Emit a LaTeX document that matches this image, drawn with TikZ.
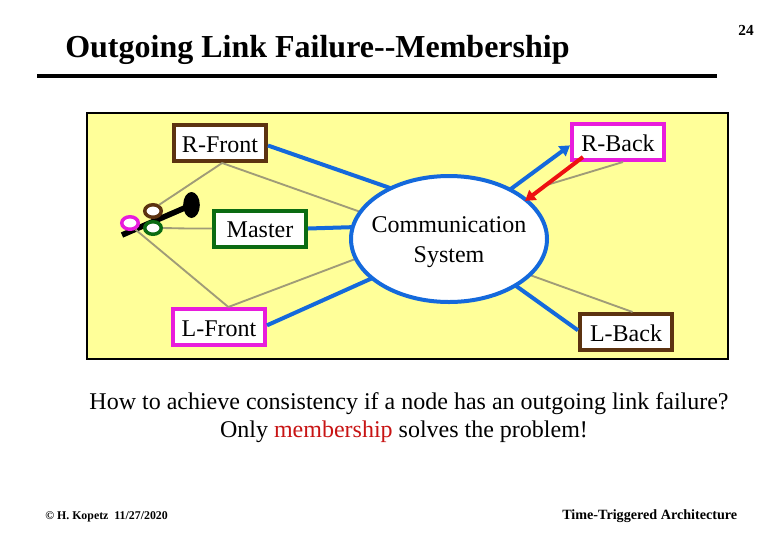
\documentclass[tikz,border=0pt]{standalone}
\usepackage{fontspec}
\setmainfont{Liberation Serif}
\usetikzlibrary{shapes.geometric,arrows.meta,calc}
\definecolor{panel}{HTML}{FFFF99}
\definecolor{cblue}{HTML}{1469DC}
\definecolor{cgray}{HTML}{A09C78}
\definecolor{cbrown}{HTML}{5C3310}
\definecolor{cgreen}{HTML}{0B6B12}
\definecolor{cmag}{HTML}{E81CDC}
\definecolor{cred}{HTML}{EE1111}
\definecolor{tred}{HTML}{C81414}
\tikzset{
  boxn/.style={draw=#1,line width=3pt,fill=white,rectangle,minimum width=69pt,minimum height=27pt,inner sep=0pt,text height=13.5pt,text depth=0pt,font=\fontsize{18}{20}\selectfont},
  blink/.style={draw=cblue,line width=3pt},
  glink/.style={draw=cgray,line width=1.4pt},
  ring/.style={ellipse,draw=#1,line width=2.6pt,fill=white,minimum width=12.4pt,minimum height=9.4pt,inner sep=0pt},
  txt/.style={inner sep=0pt,font=\fontsize{18}{20}\selectfont,anchor=base},
  small/.style={inner sep=0pt,font=\fontsize{10.6}{12}\selectfont\bfseries,anchor=base west},
  tip/.style={-{Triangle[length=7.5pt,width=9pt]}}
}
\begin{document}
\begin{tikzpicture}[x=0.75pt,y=-0.75pt]
\useasboundingbox (0,0) rectangle (780,540);
\fill[white] (0,0) rectangle (780,540);
\node[txt,anchor=base west,font=\fontsize{24}{26}\selectfont\bfseries] (title) at (65,57) {Outgoing Link Failure-{}-Membership};
\node[inner sep=0pt,anchor=base,font=\fontsize{11.5}{13}\selectfont\bfseries] (num) at (746,35) {24};
\coordinate (ruleL) at (37,76);
\coordinate (ruleR) at (717,76);
\draw[line width=3pt,black] (ruleL) -- (ruleR);
\node[draw=black,line width=2pt,fill=panel,rectangle,inner sep=0pt,minimum width=480.75pt,minimum height=184.5pt] (panelbox) at (407.5,236) {};
% nodes
\node[boxn=cbrown] (rfront) at (220,143) {R-Front};
\node[boxn=cgreen] (master) at (260,228.5) {Master};
\node[boxn=cmag] (lfront) at (219,327) {L-Front};
\node[boxn=cmag] (rback) at (618,142) {R-Back};
\node[boxn=cbrown] (lback) at (626,332) {L-Back};
\coordinate (redstart) at (583,157);
\coordinate (mbend) at (188,228.5);
% gray links (behind ellipse)
\node[ellipse,inner sep=0pt,minimum width=147pt,minimum height=94.5pt] (commshape) at (449,239) {};
\path (redstart) -- (commshape.27) coordinate[pos=0.667] (redmid);
\draw[glink] (rfront.276) -- (commshape.163.6);
\draw[glink] (lfront.65.8) -- (commshape.192.6);
\draw[glink] (rback.284) -- (redmid);
\draw[glink] (lback.72) -- (commshape.-24.6);
% blue links
\draw[blink] (rfront.-3.6) -- (commshape.139.6);
\draw[blink] (master.east) -- (commshape.173.5);
\draw[blink] (lfront.2.4) -- (commshape.207.4);
\draw[blink,tip] (commshape.39) -- (rback.184);
\draw[blink] (commshape.-35) -- (lback.178);
% ellipse
\node[ellipse,draw=cblue,line width=3pt,fill=white,inner sep=0pt,minimum width=147pt,minimum height=94.5pt] (comm) at (449,239) {};
\node[txt] (comm1) at (449,232) {Communication};
\node[txt] (comm2) at (449,262) {System};
% red arrow
\draw[draw=cred,line width=3pt,tip,shorten >=-2.5pt] (redstart) -- (comm.27);
% key
\node[ellipse,fill=black,inner sep=0pt,minimum width=12.5pt,minimum height=19.5pt] (keyhead) at (191.5,205) {};
\coordinate (keytail) at (122,235);
\draw[line width=4.2pt,black] (keytail) -- (keyhead.center);
\node[ring=cbrown] (rbrown) at (153,211) {};
\node[ring=cgreen] (rgreen) at (153,228) {};
\node[ring=cmag] (rmag) at (130,223) {};
\draw[glink] (rfront.276) -- (rbrown.45);
\draw[glink] (master.west) -- (mbend) -- (rgreen.east);
\draw[glink] (lfront.65.8) -- (rmag.-50);
% bottom text
\node[txt] (q1) at (409,409) {How to achieve consistency if a node has an outgoing link failure?};
\node[txt] (q2) at (404,437) {Only \textcolor{tred}{membership} solves the problem!};
\node[small,font=\fontsize{8.9}{11}\selectfont\bfseries] (cr) at (45,519) {© H. Kopetz\ \ 11/27/2020};
\node[small] (tta) at (562,519) {Time-Triggered Architecture};
\end{tikzpicture}
\end{document}
